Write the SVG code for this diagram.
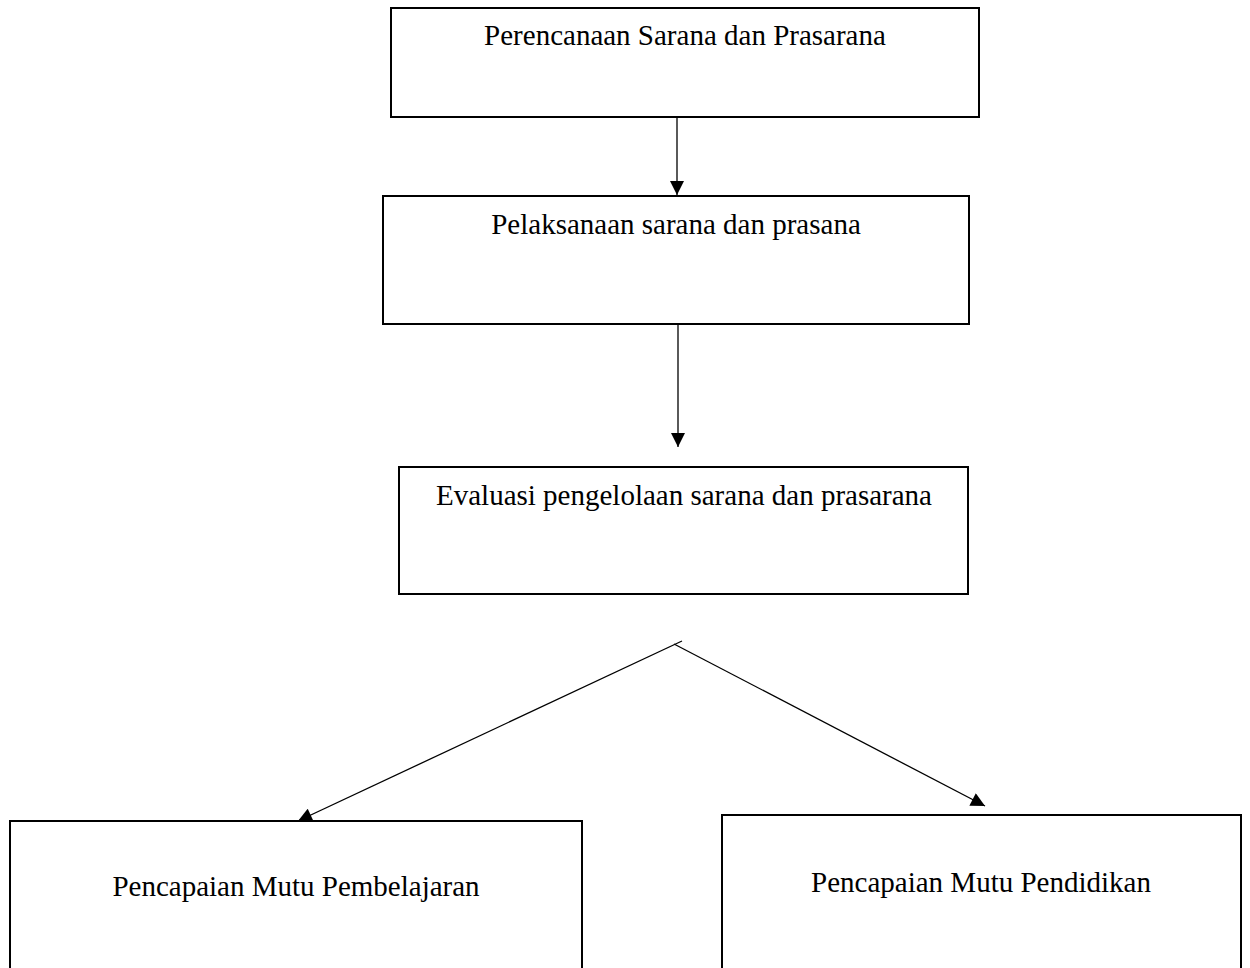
<svg xmlns="http://www.w3.org/2000/svg" width="1250" height="968" viewBox="0 0 1250 968">
<style>
.box{fill:#fff;stroke:#000;stroke-width:2}
.lbl{font-family:"Liberation Serif","Times New Roman",serif;font-size:29px;fill:#000;text-anchor:middle}
.con{stroke:#000;stroke-width:1.3;fill:none}
</style>
<defs>
<marker id="ah" viewBox="0 0 10 10" refX="10" refY="5" markerWidth="15" markerHeight="14" markerUnits="userSpaceOnUse" orient="auto">
<path d="M0,0 L10,5 L0,10 Z" fill="#000"/>
</marker>
</defs>
<rect width="1250" height="968" fill="#fff"/>
<g id="n1"><rect class="box" x="391" y="8" width="588" height="109"/><text class="lbl" x="685" y="45">Perencanaan Sarana dan Prasarana</text></g>
<g id="n2"><rect class="box" x="383" y="196" width="586" height="128"/><text class="lbl" x="676" y="234">Pelaksanaan sarana dan prasana</text></g>
<g id="n3"><rect class="box" x="399" y="467" width="569" height="127"/><text class="lbl" x="684" y="505">Evaluasi pengelolaan sarana dan prasarana</text></g>
<g id="n4"><rect class="box" x="10" y="821" width="572" height="160"/><text class="lbl" x="296" y="896">Pencapaian Mutu Pembelajaran</text></g>
<g id="n5"><rect class="box" x="722" y="815" width="519" height="165"/><text class="lbl" x="981" y="892">Pencapaian Mutu Pendidikan</text></g>
<g id="connectors">
<line class="con" x1="677" y1="117" x2="677" y2="195" marker-end="url(#ah)"/>
<line class="con" x1="678" y1="324" x2="678" y2="447" marker-end="url(#ah)"/>
<line class="con" x1="682" y1="641" x2="298" y2="821" marker-end="url(#ah)"/>
<line class="con" x1="674" y1="644" x2="985" y2="806" marker-end="url(#ah)"/>
</g>
</svg>
